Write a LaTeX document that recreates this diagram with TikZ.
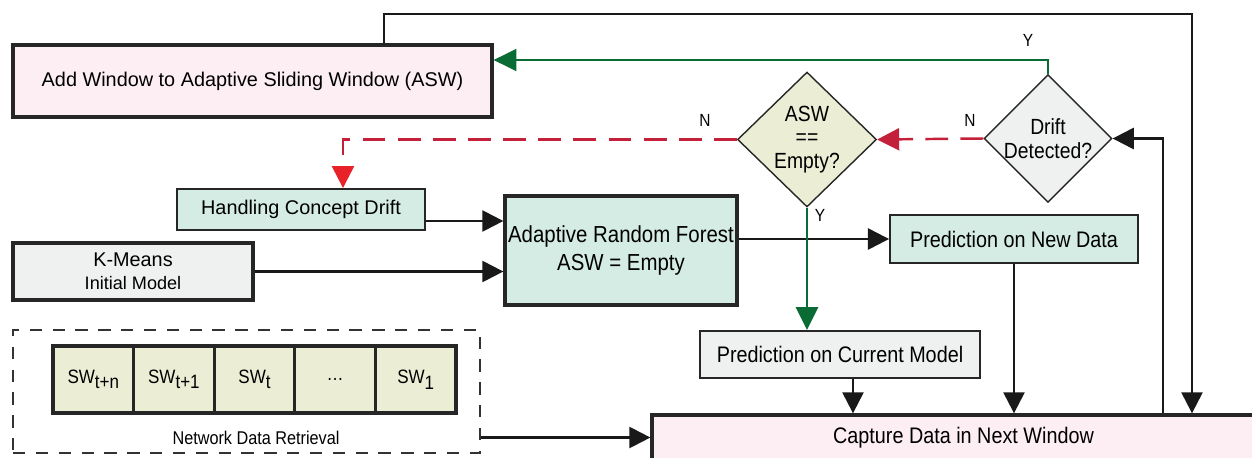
\documentclass[tikz,border=0pt]{standalone}
\usepackage{fontspec}
\setmainfont{Liberation Sans}
\newfontfamily\narrowsf{Liberation Sans}[FakeStretch=0.88]
\usetikzlibrary{arrows.meta,shapes.geometric,positioning}

\definecolor{boxpink}{HTML}{FCEEF2}
\definecolor{boxteal}{HTML}{D5ECE4}
\definecolor{boxgray}{HTML}{EFF1F0}
\definecolor{boxolive}{HTML}{EBEDD4}
\definecolor{flowgreen}{HTML}{0A6B35}
\definecolor{flowred}{HTML}{C5203A}
\definecolor{tipred}{HTML}{E82228}

\newcommand{\swsub}[1]{\raisebox{-0.55ex}{#1}}

\tikzset{
	box/.style={draw=black!85, line width=1.9pt, rectangle, align=center, inner sep=0pt, font=\fontsize{11.3}{13}\selectfont},
	thinbox/.style={box, line width=1.1pt},
	decision/.style={draw=black!85, line width=0.8pt, diamond, aspect=1, inner sep=0pt, align=center, font=\narrowsf\fontsize{12.5}{13.5}\selectfont},
	swcell/.style={draw=black!85, line width=1.9pt, fill=boxolive, minimum width=1.612cm, minimum height=1.34cm, inner sep=0pt, font=\narrowsf\fontsize{11}{13}\selectfont},
	lbl/.style={inner sep=0pt, font=\narrowsf\fontsize{10}{12}\selectfont},
	arr/.style={line width=1.3pt, draw=black!90, -{Triangle[length=12pt,width=12pt]}},
	garr/.style={line width=1.3pt, draw=flowgreen, -{Triangle[length=13pt,width=12.5pt]}},
	rarr/.style={line width=1.4pt, draw=flowred, dash pattern=on 13pt off 7pt, -{Triangle[length=12.5pt,width=12.5pt]}}
}

\begin{document}
\begin{tikzpicture}[x=0.02cm,y=-0.02cm]
	\useasboundingbox (0,0) rectangle (1252,457);

	% process boxes
	\node[box, fill=boxpink, minimum width=9.58cm, minimum height=1.44cm] (addw) at (252.5,81) {Add Window to Adaptive Sliding Window (ASW)};
	\node[thinbox, fill=boxteal, minimum width=4.96cm, minimum height=0.82cm] (hcd) at (301,209.5) {Handling Concept Drift};
	\node[box, fill=boxgray, minimum width=4.8cm, minimum height=1.14cm] (km) at (133,271.5) {K-Means\\{\fontsize{10.3}{12}\selectfont Initial Model}};
	\node[box, fill=boxteal, minimum width=4.64cm, minimum height=2.18cm, font=\narrowsf\fontsize{13.2}{15.5}\selectfont] (arf) at (621,250.5) {Adaptive Random Forest\\ASW = Empty};
	\node[thinbox, fill=boxteal, minimum width=4.96cm, minimum height=0.96cm, font=\narrowsf\fontsize{12.8}{14}\selectfont] (pnd) at (1014,239) {Prediction on New Data};
	\node[thinbox, fill=boxgray, minimum width=5.6cm, minimum height=0.94cm, font=\narrowsf\fontsize{12.8}{14}\selectfont] (pcm) at (840,354.5) {Prediction on Current Model};
	\node[box, fill=boxpink, minimum width=12.46cm, minimum height=0.9cm, font=\narrowsf\fontsize{12.8}{14}\selectfont] (capt) at (963.5,437.5) {Capture Data in Next Window};

	% decisions
	\node[decision, fill=boxolive, minimum width=2.78cm, minimum height=2.7cm] (asw) at (807,139.5) {ASW\\==\\Empty?};
	\node[decision, fill=boxgray, minimum width=2.32cm, minimum height=2.34cm] (drift) at (1048,138.5) {Drift\\Detected?};

	% sliding windows
	\node[draw=black!80, line width=0.7pt, dash pattern=on 7pt off 6pt, minimum width=9.34cm, minimum height=2.46cm] (ndr) at (246.5,391.5) {};
	\foreach \lab [count=\i] in {SW\swsub{t+n}, SW\swsub{t+1}, SW\swsub{t}, \dots, SW\swsub{1}}
		\node[swcell] (sw\i) at ({53+80.6*(\i-0.5)},379.5) {\lab};
	\node[lbl, font=\narrowsf\fontsize{10.5}{12}\selectfont] (ndrlab) at (256,438) {Network Data Retrieval};

	% flow
	\coordinate (loopr) at (1192,14);
	\draw[arr] ([xshift=2.63cm]addw.north) |- (loopr) -- (loopr |- capt.north);
	\draw[garr] (drift.north) -- (drift.north |- 0,60) -- (addw.east |- 0,60);
	\draw[rarr] (drift.west) -- (asw.east);
	\draw[rarr, -{Triangle[length=12.5pt,width=12.5pt,color=tipred]}] (asw.west) -| ([xshift=0.84cm]hcd.north);
	\draw[arr] ([yshift=-0.23cm]hcd.east) -- ([yshift=-0.23cm]hcd.east -| arf.west);
	\draw[arr] (km.east) -- (km.east -| arf.west);
	\draw[arr] (arf.east |- pnd.west) -- (pnd.west);
	\draw[garr] (asw.south) -- (asw.south |- pcm.north);
	\draw[arr] ([xshift=0.26cm]pcm.south) -- ([xshift=0.26cm]pcm.south |- capt.north);
	\draw[arr] (pnd.south) -- (pnd.south |- capt.north);
	\draw[arr] (capt.north -| 1163,0) |- (drift.east);
	\draw[arr] (ndr.east |- capt.west) -- (capt.west);

	% branch labels
	\node[lbl] (ytop) at (1028,40) {Y};
	\node[lbl] (nright) at (970,120) {N};
	\node[lbl] (nleft) at (705,120) {N};
	\node[lbl] (ydown) at (820,215) {Y};
\end{tikzpicture}
\end{document}
